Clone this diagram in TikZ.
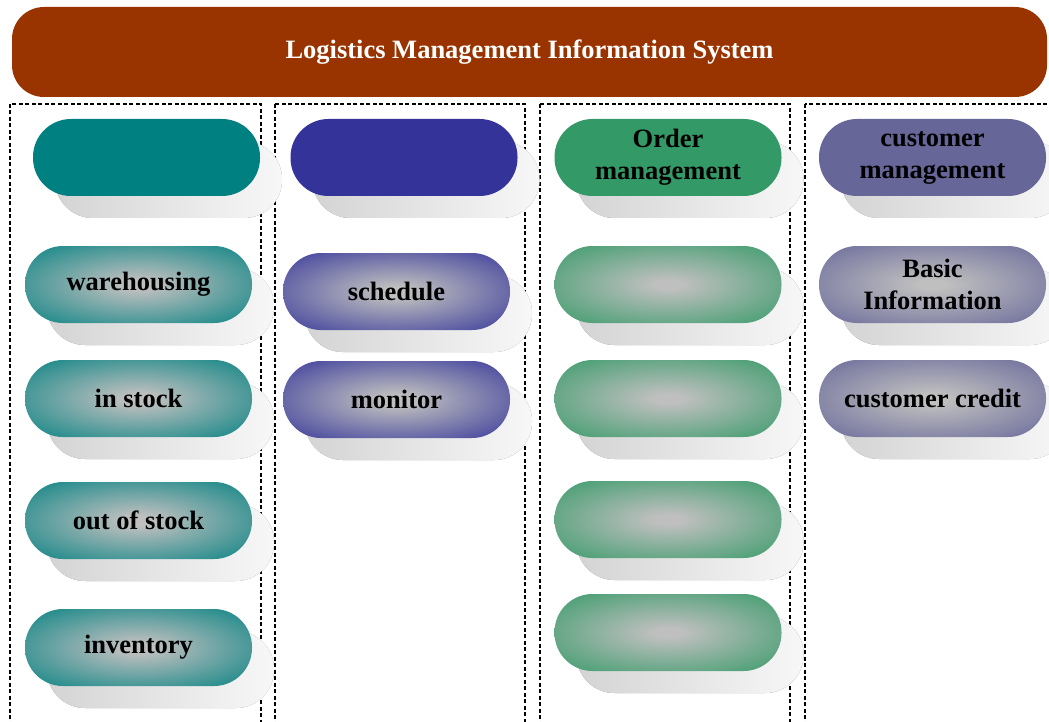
\documentclass[tikz,border=0pt]{standalone}
\usepackage{fontspec}
\setmainfont{Liberation Serif}
\usetikzlibrary{shadows}
\definecolor{rust}{HTML}{993300}
\definecolor{tealc}{HTML}{008080}
\definecolor{bluec}{HTML}{333399}
\definecolor{greenc}{HTML}{339966}
\definecolor{purplec}{HTML}{666699}
\colorlet{pillin}{black!25}
\colorlet{pillout}{tealc}
\pgfdeclareradialshading[pillout]{pillglow}{\pgfpoint{0bp}{0bp}}{color(0bp)=(pillin); color(3bp)=(pillin); color(38bp)=(pillout); color(50bp)=(pillout)}
\tikzset{
  pill/.style={rectangle, rounded corners=38pt, minimum width=227pt, minimum height=77pt,
    inner sep=0pt, align=center, font=\fontsize{26.5}{32}\selectfont\bfseries,
    drop shadow={shadow xshift=22pt, shadow yshift=-22pt, left color=black!17, right color=black!3, opacity=1}},
  head/.style={pill, fill=#1},
  glow/.style={pill, /utils/exec={\colorlet{pillout}{#1}}, shade, shading=pillglow},
  column/.style={black, line width=1.3pt, dash pattern=on 4pt off 2.5pt}
}
\begin{document}
\begin{tikzpicture}[x=1pt,y=-1pt]
\useasboundingbox (0,0) rectangle (1049,722);
\clip (0,0) rectangle (1049,722);
\draw [column] (10,104) rectangle (261,740);
\draw [column] (275,104) rectangle (525,740);
\draw [column] (540,104) rectangle (790,740);
\draw [column] (805,104) rectangle (1070,740);
\node [rectangle, rounded corners=32pt, fill=rust, minimum width=1035pt, minimum height=90pt,
  text=white, font=\fontsize{26.5}{30}\selectfont\bfseries] (title) at (529.5,52) {Logistics Management Information System};
\node [head=tealc] (store) at (146.5,157.5) {};
\node [glow=tealc] (warehousing) at (138.5,284.5) {warehousing};
\node [glow=tealc] (instock) at (138.5,398.5) {in stock};
\node [glow=tealc] (outstock) at (138.5,520.5) {out of stock};
\node [glow=tealc] (inventory) at (138.5,647.5) {inventory};
\node [head=bluec] (transport) at (404,157.5) {};
\node [glow=bluec] (schedule) at (396.5,291.5) {schedule};
\node [glow=bluec] (monitor) at (396.5,399.5) {monitor};
\node [head=greenc] (order) at (668,157.5) {Order\\management};
\node [glow=greenc] (orderA) at (668,284.5) {};
\node [glow=greenc] (orderB) at (668,398.5) {};
\node [glow=greenc] (orderC) at (668,519.5) {};
\node [glow=greenc] (orderD) at (668,632.5) {};
\node [head=purplec] (customer) at (932.5,157.5) {customer\\management};
\node [glow=purplec] (basic) at (932.5,284.5) {Basic\\Information};
\node [glow=purplec] (credit) at (932.5,398.5) {customer credit};
\end{tikzpicture}
\end{document}
